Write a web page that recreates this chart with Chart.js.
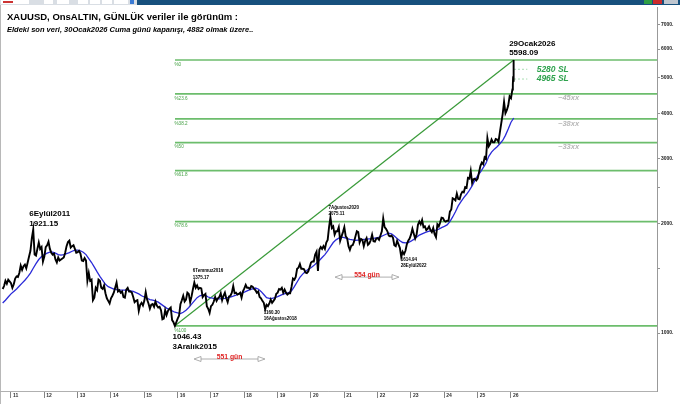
<!DOCTYPE html>
<html>
<head>
<meta charset="utf-8">
<script src="https://cdn.jsdelivr.net/npm/chart.js@4.4.1/dist/chart.umd.min.js"></script>
<style>
html, body { margin: 0; padding: 0; background: #fff; }
#wrap { width: 680px; height: 404px; }
</style>
</head>
<body>
<div id="wrap"><canvas id="myChart" width="680" height="404"></canvas></div>
<script>
// XAUUSD gunluk, yarim ay adimli okuma (ilk deger Ekim 2010 basi)
var priceStart = 2010.75;
var p2010 = [1320, 1345, 1390, 1365, 1400, 1385];
var p2011 = [1370, 1330, 1360, 1410, 1430, 1425, 1460, 1530, 1490, 1525, 1540, 1505, 1560, 1620, 1680, 1820, 1921.15, 1640, 1630, 1700, 1770, 1700, 1720, 1570];
var p2012 = [1620, 1720, 1740, 1780, 1700, 1660, 1640, 1650, 1590, 1560, 1610, 1580, 1590, 1600, 1610, 1660, 1730, 1775, 1790, 1715, 1730, 1740, 1700, 1660];
var p2013 = [1665, 1680, 1650, 1580, 1575, 1605, 1580, 1390, 1460, 1390, 1400, 1230, 1250, 1330, 1310, 1400, 1390, 1330, 1320, 1350, 1285, 1245, 1225, 1205];
var p2014 = [1245, 1265, 1290, 1330, 1375, 1300, 1310, 1290, 1300, 1255, 1250, 1315, 1330, 1300, 1300, 1290, 1255, 1215, 1225, 1230, 1150, 1195, 1210, 1190];
var p2015 = [1225, 1295, 1235, 1205, 1165, 1195, 1200, 1180, 1220, 1190, 1175, 1180, 1155, 1090, 1095, 1155, 1120, 1150, 1165, 1175, 1085, 1070, 1046.43, 1070];
var p2016 = [1095, 1115, 1200, 1230, 1265, 1220, 1235, 1290, 1280, 1215, 1260, 1320, 1375.17, 1330, 1350, 1320, 1330, 1325, 1255, 1270, 1280, 1185, 1165, 1135];
var p2017 = [1185, 1195, 1220, 1255, 1225, 1245, 1255, 1285, 1230, 1265, 1290, 1245, 1215, 1260, 1265, 1290, 1345, 1285, 1290, 1275, 1280, 1290, 1250, 1300];
var p2018 = [1325, 1355, 1330, 1330, 1320, 1345, 1340, 1320, 1310, 1290, 1300, 1255, 1245, 1225, 1210, 1160.30, 1195, 1185, 1205, 1235, 1210, 1225, 1240, 1280];
var p2019 = [1290, 1320, 1315, 1330, 1290, 1315, 1290, 1275, 1285, 1285, 1340, 1410, 1400, 1425, 1500, 1510, 1545, 1500, 1500, 1495, 1465, 1460, 1475, 1515];
var p2020 = [1560, 1570, 1570, 1640, 1670, 1480, 1690, 1720, 1700, 1730, 1700, 1770, 1800, 1950, 2075.11, 1940, 1960, 1860, 1900, 1900, 1950, 1790, 1840, 1890];
var p2021 = [1950, 1840, 1820, 1730, 1690, 1735, 1740, 1780, 1840, 1900, 1890, 1770, 1810, 1800, 1730, 1790, 1820, 1745, 1760, 1795, 1860, 1785, 1780, 1815];
var p2022 = [1820, 1800, 1850, 1900, 2060, 1950, 1930, 1900, 1850, 1840, 1850, 1825, 1740, 1730, 1790, 1750, 1710, 1614.94, 1670, 1645, 1680, 1750, 1790, 1815];
var p2023 = [1860, 1930, 1870, 1815, 1860, 1980, 2020, 1985, 2040, 1950, 1960, 1915, 1930, 1960, 1915, 1890, 1940, 1865, 1830, 1985, 1960, 2010, 2070, 2065];
var p2024 = [2030, 2020, 2030, 2030, 2150, 2180, 2340, 2330, 2310, 2410, 2330, 2325, 2400, 2440, 2430, 2510, 2500, 2660, 2650, 2780, 2580, 2640, 2650, 2620];
var p2025 = [2650, 2760, 2870, 2930, 2900, 3030, 3000, 3420, 3250, 3300, 3390, 3330, 3330, 3400, 3390, 3340, 3550, 3760, 3980, 4300, 4000, 4080, 4200, 4450];
var p2026 = [4400, 4650];
// son gunler (Ocak 2026 sonu)
var tailX = [2026.055, 2026.065, 2026.073, 2026.08, 2026.083];
var tailY = [4800, 5050, 5300, 5598.09, 4882];

// 200 gunluk ortalama, aylik okuma (Ekim 2010 basindan)
var maStart = 2010.75;
var ma2010 = [1208, 1230, 1255];
var ma2011 = [1280, 1300, 1320, 1345, 1370, 1395, 1425, 1460, 1505, 1550, 1590, 1620];
var ma2012 = [1640, 1655, 1665, 1665, 1655, 1640, 1635, 1640, 1650, 1660, 1675, 1688];
var ma2013 = [1688, 1680, 1665, 1640, 1600, 1560, 1515, 1470, 1430, 1395, 1360, 1340];
var ma2014 = [1330, 1320, 1315, 1312, 1310, 1310, 1310, 1305, 1300, 1290, 1280, 1265];
var ma2015 = [1255, 1245, 1235, 1230, 1225, 1215, 1200, 1185, 1170, 1160, 1150, 1140];
var ma2016 = [1135, 1130, 1140, 1155, 1175, 1200, 1225, 1250, 1265, 1272, 1268, 1255];
var ma2017 = [1248, 1245, 1242, 1240, 1242, 1245, 1250, 1255, 1262, 1270, 1280, 1287];
var ma2018 = [1295, 1305, 1315, 1322, 1328, 1320, 1300, 1275, 1250, 1245, 1245, 1250];
var ma2019 = [1258, 1268, 1278, 1285, 1290, 1305, 1340, 1380, 1420, 1450, 1475, 1495];
var ma2020 = [1510, 1530, 1555, 1580, 1610, 1640, 1680, 1725, 1770, 1800, 1820, 1830];
var ma2021 = [1825, 1815, 1805, 1800, 1795, 1798, 1800, 1805, 1808, 1812, 1815, 1820];
var ma2022 = [1825, 1835, 1850, 1865, 1878, 1870, 1845, 1815, 1790, 1770, 1765, 1770];
var ma2023 = [1785, 1805, 1830, 1855, 1870, 1885, 1895, 1905, 1910, 1914, 1925, 1945];
var ma2024 = [1960, 1978, 2020, 2080, 2150, 2230, 2290, 2350, 2400, 2460, 2530, 2620];
var ma2025 = [2700, 2760, 2840, 2920, 3050, 3130, 3190, 3240, 3300, 3370, 3480, 3620];
var ma2026 = [3780, 3883];

// fibonacci duzeltme seviyeleri (3Aralik2015 dibi - 29Ocak2026 tepesi)
var fibStartX = 2015.92;
var fibNames = ['%0', '%23.6', '%38.2', '%50', '%61.8', '%78.6', '%100'];
var fibLevels = [5598.09, 4523.90, 3859.36, 3322.26, 2785.16, 2020.48, 1046.43];
var targetNames = ['~45xx', '~38xx', '~33xx'];
var targetLevels = [4523.90, 3859.36, 3322.26];
var slNames = ['5280 SL', '4965 SL'];
var slLevels = [5280, 4965];
var trendX = [2015.92, 2026.08];
var trendY = [1046.43, 5598.09];

var xTickYears = [2011, 2012, 2013, 2014, 2015, 2016, 2017, 2018, 2019, 2020, 2021, 2022, 2023, 2024, 2025, 2026];
var xTickLabels = ['11', '12', '13', '14', '15', '16', '17', '18', '19', '20', '21', '22', '23', '24', '25', '26'];
var yTicks = [1000, 1500, 2000, 2500, 3000, 4000, 5000, 6000, 7000];
var yTickLabels = ['1000.', '', '2000.', '', '3000.', '4000.', '5000.', '6000.', '7000.'];

var X_MIN = 2010.67, X_MAX = 2030.38;
var FONT = '"Liberation Sans", Arial, sans-serif';

var pricePoints = [];
[].concat(p2010, p2011, p2012, p2013, p2014, p2015, p2016, p2017, p2018, p2019, p2020, p2021, p2022, p2023, p2024, p2025, p2026)
    .forEach(function (v, i) { pricePoints.push({ x: priceStart + i / 24, y: v }); });
tailX.forEach(function (x, i) { pricePoints.push({ x: x, y: tailY[i] }); });

var maPoints = [];
[].concat(ma2010, ma2011, ma2012, ma2013, ma2014, ma2015, ma2016, ma2017, ma2018, ma2019, ma2020, ma2021, ma2022, ma2023, ma2024, ma2025, ma2026)
    .forEach(function (v, i) { maPoints.push({ x: maStart + i / 12, y: v }); });

function lineSet(data, color, width, dash) {
    return {
        data: data, borderColor: color, borderWidth: width, borderDash: dash || [],
        pointRadius: 0, fill: false, tension: 0
    };
}

var datasets = [
    lineSet(pricePoints, '#000000', 1.9),
    lineSet(maPoints, '#2a2ad8', 1.3)
];
slLevels.forEach(function (v) {
    datasets.push(lineSet([{ x: 2026.09, y: v }, { x: 2026.49, y: v }], '#8fd49c', 0.8, [2, 2]));
});
datasets.push(lineSet([{ x: trendX[0], y: trendY[0] }, { x: trendX[1], y: trendY[1] }], '#389a38', 1.2));
fibLevels.forEach(function (v) {
    datasets.push(lineSet([{ x: fibStartX, y: v }, { x: X_MAX, y: v }], '#6cbd6c', 1.7));
});

// metin notlari: veri noktasina gore piksel kaydirma
var notes = [
    { at: [2011.68, 1921.15], dx: -4.4, dy: -15.5, text: '6Eylül2011', size: 8 },
    { at: [2011.68, 1921.15], dx: -4.4, dy: -6, text: '1921.15', size: 8 },
    { at: [2015.92, 1046.43], dx: -2.5, dy: 11, text: '1046.43', size: 8 },
    { at: [2015.92, 1046.43], dx: -2.5, dy: 21, text: '3Aralık2015', size: 8 },
    { at: [2026.08, 5598.09], dx: -4.5, dy: -16.3, text: '29Ocak2026', size: 8 },
    { at: [2026.08, 5598.09], dx: -4.5, dy: -7, text: '5598.09', size: 8 },
    { at: [2016.5, 1375.17], dx: -1.5, dy: -11.5, text: '6Temmuz2016', size: 4.5 },
    { at: [2016.5, 1375.17], dx: -1.5, dy: -5, text: '1375.17', size: 4.5 },
    { at: [2018.625, 1160.30], dx: -1.5, dy: 3.5, text: '1160.30', size: 4.5 },
    { at: [2018.625, 1160.30], dx: -1.5, dy: 9, text: '16Ağustos2018', size: 4.5 },
    { at: [2020.583, 2075.11], dx: -2, dy: -10, text: '7Ağustos2020', size: 4.5 },
    { at: [2020.583, 2075.11], dx: -2, dy: -4, text: '2075.11', size: 4.5 },
    { at: [2022.708, 1614.94], dx: -0.5, dy: 2.5, text: '1614.94', size: 4.5 },
    { at: [2022.708, 1614.94], dx: -0.5, dy: 9, text: '28Eylül2022', size: 4.5 }
];
var spans = [
    { from: 2016.49, to: 2018.62, level: 848.7, text: '551 gün' },
    { from: 2020.72, to: 2022.64, level: 1423, text: '554 gün' }
];

function arrowHead(ctx, x, y, dir) {
    ctx.beginPath();
    ctx.moveTo(x, y);
    ctx.lineTo(x + dir * 7, y - 2.5);
    ctx.lineTo(x + dir * 7, y + 2.5);
    ctx.closePath();
    ctx.fillStyle = '#ffffff';
    ctx.fill();
    ctx.stroke();
}

var decor = {
    id: 'decor',
    beforeDraw: function (chart) {
        var ctx = chart.ctx;
        ctx.save();
        ctx.fillStyle = '#ffffff';
        ctx.fillRect(0, 0, chart.width, chart.height);
        // ust arac cubugu
        ctx.fillStyle = '#17507d';
        ctx.fillRect(0, 0, chart.width, 5);
        ctx.fillStyle = '#d9dee4';
        ctx.fillRect(0, 0, 137, 5);
        ctx.fillStyle = '#ffffff';
        [[1, 0, 28, 4], [44, 0, 9, 4], [57, 0, 12, 4], [78, 0, 10, 4], [90, 0, 10, 4], [102, 0, 10, 4], [114, 0, 14, 4]].forEach(function (r) {
            ctx.fillRect(r[0], r[1], r[2], r[3]);
        });
        ctx.fillStyle = '#cc3333';
        ctx.fillRect(3, 1, 10, 2);
        ctx.fillStyle = '#3a7bd5';
        ctx.fillRect(130, 0, 4, 4);
        ctx.fillStyle = '#2e9e44';
        ctx.fillRect(644, 0, 8, 4);
        ctx.fillStyle = '#cc2b2b';
        ctx.fillRect(653, 0, 9, 4);
        ctx.fillStyle = '#bfc6cf';
        ctx.fillRect(664, 0, 14, 4);
        // sol kenar
        ctx.strokeStyle = '#b8b8b8';
        ctx.lineWidth = 1;
        ctx.beginPath();
        ctx.moveTo(0.5, 5);
        ctx.lineTo(0.5, chart.height);
        ctx.stroke();
        ctx.restore();
    },
    afterDatasetsDraw: function (chart) {
        var ctx = chart.ctx;
        var xs = chart.scales.x, ys = chart.scales.y;
        ctx.save();
        ctx.textBaseline = 'middle';
        ctx.textAlign = 'left';

        // fib etiketleri
        ctx.fillStyle = '#45a045';
        ctx.font = '4.6px ' + FONT;
        fibLevels.forEach(function (v, i) {
            ctx.fillText(fibNames[i], xs.getPixelForValue(fibStartX) - 0.5, ys.getPixelForValue(v) + 4.5);
        });

        // hedef etiketleri
        ctx.fillStyle = '#b8b8b8';
        ctx.font = 'italic bold 7.5px ' + FONT;
        targetLevels.forEach(function (v, i) {
            ctx.fillText(targetNames[i], xs.getPixelForValue(2027.41), ys.getPixelForValue(v) + 4.5);
        });

        // stop seviyeleri
        ctx.fillStyle = '#2fa24e';
        ctx.font = 'italic bold 8.5px ' + FONT;
        slLevels.forEach(function (v, i) {
            ctx.fillText(slNames[i], xs.getPixelForValue(2026.77), ys.getPixelForValue(v));
        });

        // tepe/dip notlari
        ctx.fillStyle = '#000000';
        notes.forEach(function (n) {
            ctx.font = 'bold ' + n.size + 'px ' + FONT;
            ctx.fillText(n.text, xs.getPixelForValue(n.at[0]) + n.dx, ys.getPixelForValue(n.at[1]) + n.dy);
        });

        // gun araliklari
        spans.forEach(function (s) {
            var x1 = xs.getPixelForValue(s.from), x2 = xs.getPixelForValue(s.to);
            var y = ys.getPixelForValue(s.level);
            ctx.strokeStyle = '#9a9a9a';
            ctx.lineWidth = 0.8;
            ctx.beginPath();
            ctx.moveTo(x1 + 7, y);
            ctx.lineTo(x2 - 7, y);
            ctx.stroke();
            arrowHead(ctx, x1, y, 1);
            arrowHead(ctx, x2, y, -1);
            ctx.fillStyle = '#e02424';
            ctx.font = 'bold 6.8px ' + FONT;
            ctx.textAlign = 'center';
            ctx.fillText(s.text, (x1 + x2) / 2, y - 2);
            ctx.textAlign = 'left';
        });

        // baslik
        ctx.fillStyle = '#000000';
        ctx.font = 'bold 9.5px ' + FONT;
        ctx.fillText('XAUUSD, OnsALTIN, GÜNLÜK veriler ile görünüm :', 7, 17);
        ctx.font = 'italic bold 7.5px ' + FONT;
        ctx.fillText('Eldeki son veri, 30Ocak2026 Cuma günü kapanışı, 4882 olmak üzere..', 7, 30);
        ctx.restore();
    }
};

var ctx = document.getElementById('myChart').getContext('2d');
var myChart = new Chart(ctx, {
    type: 'line',
    data: { datasets: datasets },
    plugins: [decor],
    options: {
        responsive: false,
        animation: false,
        parsing: false,
        normalized: true,
        layout: { padding: { top: 7, left: 0, right: 0, bottom: 0 } },
        plugins: {
            legend: { display: false },
            tooltip: { enabled: false },
            title: { display: false }
        },
        scales: {
            x: {
                type: 'linear',
                min: X_MIN,
                max: X_MAX,
                afterBuildTicks: function (s) {
                    s.ticks = xTickYears.map(function (v) { return { value: v }; });
                },
                afterFit: function (s) { s.height = 13; },
                grid: { drawOnChartArea: false, tickLength: 7, color: '#666666', lineWidth: 0.8 },
                border: { color: '#b0b0b0' },
                ticks: {
                    align: 'start',
                    labelOffset: 2,
                    padding: -5,
                    maxRotation: 0,
                    autoSkip: false,
                    color: '#333333',
                    font: { size: 5, family: FONT, weight: 'bold' },
                    callback: function (v, i) { return xTickLabels[i]; }
                }
            },
            y: {
                type: 'logarithmic',
                position: 'right',
                min: 693.6,
                max: 7822,
                afterBuildTicks: function (s) {
                    s.ticks = yTicks.map(function (v) { return { value: v }; });
                },
                afterFit: function (s) { s.width = 23; },
                grid: { drawOnChartArea: false, tickLength: 3, color: '#777777', lineWidth: 0.8 },
                border: { color: '#999999' },
                ticks: {
                    padding: 1,
                    color: '#222222',
                    font: { size: 5, family: FONT, weight: 'bold' },
                    callback: function (v, i) { return yTickLabels[i]; }
                }
            }
        }
    }
});
</script>
</body>
</html>
